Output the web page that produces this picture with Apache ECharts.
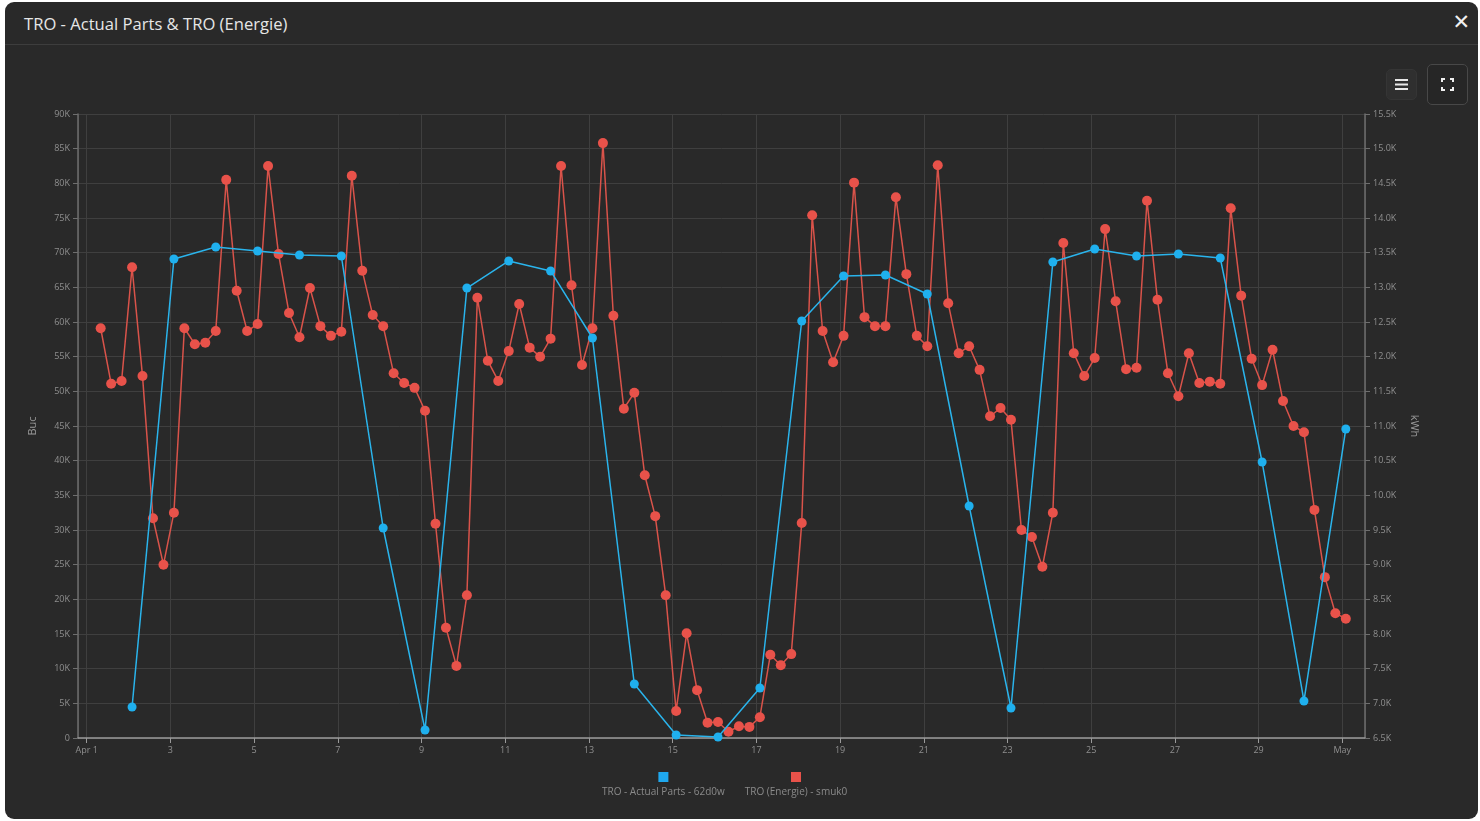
<!DOCTYPE html>
<html>
<head>
<meta charset="utf-8">
<script src="https://cdn.jsdelivr.net/npm/echarts@6/dist/echarts.min.js"></script>
<style>
  html, body { margin: 0; padding: 0; width: 1480px; height: 821px; background: #ffffff; overflow: hidden; font-family: "Open Sans", "Noto Sans", sans-serif; }
  #panel { position: absolute; left: 5px; top: 2px; width: 1473px; height: 817px; background: #292929; border-radius: 9px; }
  #header { position: absolute; left: 0; top: 0; right: 0; height: 42px; border-bottom: 1px solid #3d3d3d; }
  #title { position: absolute; left: 19px; top: 10px; color: #e6e6e6; font-size: 16.6px; font-family: "Open Sans", sans-serif; }
  #close { position: absolute; right: 8px; top: 8px; color: #f0f0f0; font-size: 21px; font-family: "DejaVu Sans", sans-serif; }
  #chart { position: absolute; left: 0; top: 0; width: 1480px; height: 821px; }
  .btn { position: absolute; box-sizing: border-box; border-radius: 5px; }
  #menuBtn { left: 1386px; top: 69px; width: 31px; height: 31px; background: #2f2f2f; border: 1px solid #353535; }
  #fsBtn { left: 1427px; top: 64px; width: 41px; height: 41px; background: #262626; border: 1px solid #484848; }
</style>
</head>
<body>
<div id="panel">
  <div id="header"><div id="title">TRO - Actual Parts &amp; TRO (Energie)</div><div id="close">✕</div></div>
</div>
<div id="chart"></div>
<div class="btn" id="menuBtn">
  <svg width="31" height="31" viewBox="0 0 31 31" style="position:absolute;left:-1px;top:-1px"><rect x="9" y="10" width="13" height="2" fill="#e8e8e8"/><rect x="9" y="14.5" width="13" height="2" fill="#e8e8e8"/><rect x="9" y="19" width="13" height="2" fill="#e8e8e8"/></svg>
</div>
<div class="btn" id="fsBtn">
  <svg width="41" height="41" viewBox="0 0 41 41" style="position:absolute;left:-1px;top:-1px"><path d="M15 18 V15 H18 M23 15 H26 V18 M26 23 V26 H23 M18 26 H15 V23" stroke="#f0f0f0" stroke-width="2" fill="none"/></svg>
</div>
<script>
// ---- data ----
const monthNames = ['Jan','Feb','Mar','Apr','May','Jun','Jul','Aug','Sep','Oct','Nov','Dec'];
const partsName = 'TRO - Actual Parts - 62d0w';
const energyName = 'TRO (Energie) - smuk0';
// daily samples (Buc), starting 2 Apr 02:00, one per day
const partsStart = [2024, 3, 2, 2];
const partsValues = [4470, 69090, 70820, 70240, 69660, 69520, 30290, 1150, 64900, 68800,
  67360, 57690, 7790, 430, 140, 7210, 60140, 66640, 66780, 64040,
  33460, 4330, 68650, 70530, 69520, 69810, 69230, 39810, 5340, 44570];
// 6-hourly samples (kWh), starting 1 Apr 08:00
const energyStart = [2024, 3, 1, 8];
const energyValues = [12410, 11610, 11650, 13290, 11720, 9670, 9000, 9750, 12410, 12180,
  12200, 12370, 14550, 12950, 12370, 12470, 14750, 13480, 12630, 12280,
  12990, 12440, 12300, 12360, 14610, 13240, 12600, 12440, 11760, 11620,
  11550, 11220, 9590, 8090, 7540, 8560, 12850, 11940, 11650, 12080,
  12760, 12130, 12000, 12260, 14750, 13030, 11880, 12410, 15080, 12590,
  11250, 11480, 10290, 9700, 8560, 6890, 8010, 7190, 6720, 6730,
  6590, 6670, 6660, 6800, 7700, 7550, 7710, 9600, 14040, 12370,
  11920, 12300, 14510, 12570, 12440, 12440, 14300, 13190, 12300, 12150,
  14760, 12770, 12050, 12150, 11810, 11140, 11260, 11090, 9500, 9400,
  8970, 9750, 13640, 12050, 11720, 11980, 13840, 12800, 11820, 11840,
  14250, 12820, 11760, 11430, 12050, 11620, 11640, 11610, 14140, 12880,
  11970, 11590, 12100, 11360, 11000, 10910, 9790, 8820, 8300, 8220];
const leftTicks = { min: 0, max: 90000, interval: 5000 };
const rightTicks = { min: 6500, max: 15500, interval: 500 };

const HOUR = 3600000;
function series(start, stepH, values) {
  const t0 = new Date(start[0], start[1], start[2], start[3]).getTime();
  return values.map((v, i) => [t0 + i * stepH * HOUR, v]);
}
const axisMin = new Date(2024, 3, 1, 0).getTime() - 5 * HOUR;
const axisMax = new Date(2024, 4, 1, 0).getTime() + 13 * HOUR;

const labelColor = '#8f8f8f';
const chart = echarts.init(document.getElementById('chart'), null, { renderer: 'canvas' });
chart.setOption({
  backgroundColor: 'transparent',
  animation: false,
  grid: { left: 78, right: 115, top: 114, bottom: 83, containLabel: false },
  legend: {
    data: [partsName, energyName],
    left: 592, top: 767,
    icon: 'none', itemWidth: 0, itemHeight: 0, itemGap: 15,
    formatter: function (name) {
      return (name === partsName ? '{b|}' : '{r|}') + '\n{t|' + name + '}';
    },
    textStyle: {
      color: '#8a8a8a', fontSize: 10, fontFamily: 'Open Sans',
      rich: {
        b: { backgroundColor: '#1fa8ee', width: 10, height: 10, align: 'center' },
        r: { backgroundColor: '#e8524a', width: 10, height: 10, align: 'center' },
        t: { color: '#8a8a8a', fontSize: 10, fontFamily: 'Open Sans', align: 'center', padding: [5, 0, 0, 0] }
      }
    }
  },
  xAxis: {
    type: 'time',
    min: axisMin, max: axisMax,
    minInterval: 2 * 24 * HOUR, maxInterval: 2 * 24 * HOUR,
    axisLine: { lineStyle: { color: '#9a9a9a', width: 1.5 } },
    axisTick: { show: true, length: 5, lineStyle: { color: '#9a9a9a' } },
    splitLine: { show: true, lineStyle: { color: '#3f3f3f', width: 1 } },
    axisLabel: {
      color: labelColor, fontSize: 9, fontFamily: 'Open Sans', margin: 8,
      showMinLabel: false, showMaxLabel: false,
      formatter: function (value) {
        const d = new Date(value);
        if (d.getDate() === 1) return d.getMonth() === 3 ? monthNames[3] + ' 1' : monthNames[d.getMonth()];
        return String(d.getDate());
      }
    }
  },
  yAxis: [
    {
      type: 'value', position: 'left',
      min: leftTicks.min, max: leftTicks.max, interval: leftTicks.interval,
      name: 'Buc', nameLocation: 'middle', nameGap: 40, nameRotate: 90,
      nameTextStyle: { color: '#9a9a9a', fontSize: 11, fontFamily: 'Open Sans' },
      axisLine: { show: true, lineStyle: { color: '#6e6e6e', width: 1.5 } },
      axisTick: { show: true, length: 5, lineStyle: { color: '#6e6e6e' } },
      splitLine: { show: true, lineStyle: { color: '#3f3f3f', width: 1 } },
      axisLabel: { color: labelColor, fontSize: 9, fontFamily: 'Open Sans', margin: 8,
        formatter: v => v === 0 ? '0' : (v / 1000) + 'K' }
    },
    {
      type: 'value', position: 'right',
      min: rightTicks.min, max: rightTicks.max, interval: rightTicks.interval,
      name: 'kWh', nameLocation: 'middle', nameGap: 44, nameRotate: -90,
      nameTextStyle: { color: '#9a9a9a', fontSize: 11, fontFamily: 'Open Sans' },
      axisLine: { show: true, lineStyle: { color: '#6e6e6e', width: 1.5 } },
      axisTick: { show: true, length: 5, lineStyle: { color: '#6e6e6e' } },
      splitLine: { show: false },
      axisLabel: { color: labelColor, fontSize: 9, fontFamily: 'Open Sans', margin: 8,
        formatter: v => (v / 1000).toFixed(1) + 'K' }
    }
  ],
  series: [
    {
      name: partsName, type: 'line', yAxisIndex: 0,
      data: series(partsStart, 24, partsValues),
      symbol: 'circle', symbolSize: 9,
      itemStyle: { color: '#1fb0ee' },
      lineStyle: { color: '#2ab4ec', width: 1.5 },
      z: 3
    },
    {
      name: energyName, type: 'line', yAxisIndex: 1,
      data: series(energyStart, 6, energyValues),
      symbol: 'circle', symbolSize: 10,
      itemStyle: { color: '#e8524a' },
      lineStyle: { color: '#d9534a', width: 1.5 },
      z: 2
    }
  ]
});
</script>
</body>
</html>
